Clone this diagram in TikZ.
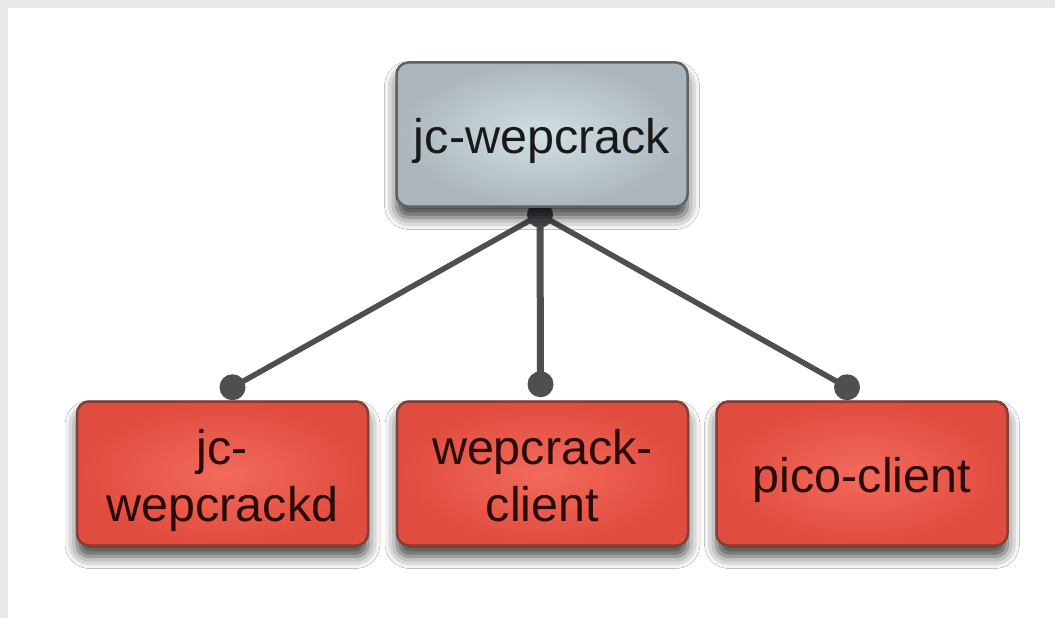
\documentclass[tikz,border=0pt]{standalone}
\usepackage{fontspec}
\setmainfont{Liberation Sans}
\usetikzlibrary{calc,backgrounds,shadows.blur}

\definecolor{framegray}{HTML}{E8E8E8}
\definecolor{linkgray}{HTML}{4E4F51}
\definecolor{rootin}{HTML}{D2E0E6}
\definecolor{rootout}{HTML}{AAB6BC}
\definecolor{rootedge}{HTML}{5E6366}
\definecolor{redin}{HTML}{F26A5C}
\definecolor{redout}{HTML}{E04C3E}
\definecolor{rededge}{HTML}{853D38}
\definecolor{redtext}{HTML}{2A0B08}

% box label, lowered a little while keeping its original extent
\newcommand{\boxlabel}[1]{\raisebox{-8pt}[\height][\depth]{%
  \begin{tabular}{@{}c@{}}#1\end{tabular}}}

\tikzset{
  box/.style={rounded corners=12pt, minimum width=291pt, minimum height=144pt,
    inner sep=0pt, align=center, line width=2.5pt,
    font=\fontsize{48.5}{57}\selectfont,
    blur shadow={shadow xshift=0pt, shadow yshift=-11pt,
      shadow blur radius=12pt, shadow opacity=75}},
  rootbox/.style={box, draw=rootedge, inner color=rootin, outer color=rootout,
    text=black!90},
  leafbox/.style={box, draw=rededge, inner color=redin, outer color=redout,
    text=redtext},
  knob/.style={circle, fill=linkgray, minimum size=26pt, inner sep=0pt},
  link/.style={draw=linkgray, line width=5.5pt},
}

\begin{document}
\begin{tikzpicture}[x=1pt,y=-1pt]
  \useasboundingbox (0,0) rectangle (1055,618);

  \node[rootbox] (root) at (542,134.5) {\boxlabel{jc-wepcrack}};
  \node[leafbox] (d) at (222.5,473.5) {\boxlabel{jc-\\wepcrackd}};
  \node[leafbox] (w) at (542.5,473.5) {\boxlabel{wepcrack-\\client}};
  \node[leafbox] (p) at (862,473.5) {\boxlabel{pico-client}};

  \begin{scope}[on background layer]
    % page with a grey strip along the top and left edges
    \fill[framegray] (0,0) rectangle (1055,618);
    \fill[white] (8,8) rectangle (1055,618);
    % links with round ends, tucked under the boxes
    \node[knob] (top) at ($(root.south)+(-2,7)$) {};
    \node[knob] (kd) at ($(d.north)+(10,-13)$) {};
    \node[knob] (kw) at ($(w.north)+(-2,-16)$) {};
    \node[knob] (kp) at ($(p.north)+(-15,-13)$) {};
    \draw[link] (top.center) -- (kd.center);
    \draw[link, line width=7pt] (top.center) -- (kw.center);
    \draw[link] (top.center) -- (kp.center);
  \end{scope}
\end{tikzpicture}
\end{document}
